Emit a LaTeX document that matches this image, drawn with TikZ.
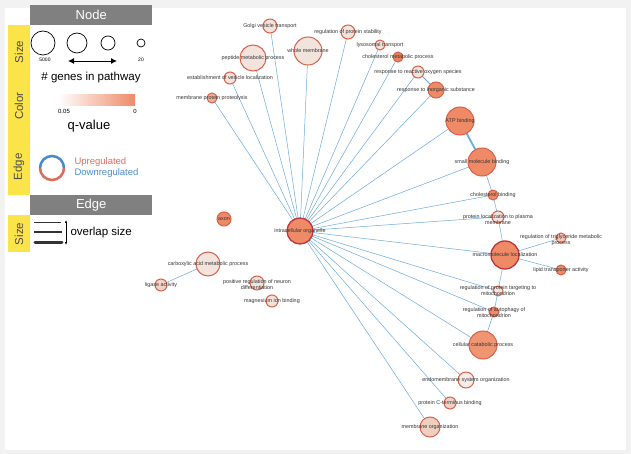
\documentclass[tikz,border=0pt]{standalone}
\usepackage{fontspec}
\setmainfont{Liberation Sans}
\usetikzlibrary{arrows.meta}
\pgfdeclarelayer{bg}
\pgfdeclarelayer{edges}
\pgfsetlayers{bg,edges,main}
\definecolor{og}{HTML}{EE8A66}
\definecolor{lt}{HTML}{F2E4DD}
\definecolor{rim}{HTML}{D9604A}
\definecolor{hub}{HTML}{C0343C}
\definecolor{eb}{HTML}{6AAAE0}
\definecolor{yel}{HTML}{FBE44A}
\definecolor{hdr}{HTML}{808080}
\definecolor{upc}{RGB}{217,112,95}
\definecolor{dnc}{RGB}{74,140,204}
\tikzset{
 gn/.style={circle,draw=rim,line width=1pt,inner sep=0pt,minimum size=#1},
 lb/.style={font=\fontsize{5.4}{5.9}\selectfont,align=center,text=black!80},
 ed/.style={draw=eb,line width=0.5pt},
 hd/.style={fill=hdr,text=white,font=\fontsize{13}{13}\selectfont,minimum width=122pt,minimum height=20pt,inner sep=0pt},
 side/.style={rotate=90,font=\fontsize{11.5}{11.5}\selectfont,text=black!70},
}
\begin{document}
\begin{tikzpicture}[x=1pt,y=-1pt]
\useasboundingbox (0,0) rectangle (631,454);
\begin{pgfonlayer}{bg}
\fill[black!5] (0,0) rectangle (631,454);
\fill[white] (5,8) rectangle (626,450);
\end{pgfonlayer}
% nodes
\node[gn=26pt,fill=og,draw=hub,line width=1.3pt] (io) at (300,231) {};
\node[gn=28pt,fill=og,draw=hub,line width=1.3pt] (ml) at (505,255) {};
\node[gn=28pt,fill=og] (atp) at (460,121) {};
\node[gn=28pt,fill=og] (smb) at (482,162) {};
\node[gn=10pt,fill=og] (chb) at (493,195) {};
\node[gn=12pt,fill=lt] (plm) at (498,217) {};
\node[gn=10pt,fill={rgb,255:red,240;green,200;blue,184}] (tri) at (561,238) {};
\node[gn=10pt,fill=og] (lip) at (561,270) {};
\node[gn=10pt,fill=lt] (rpt) at (498,291) {};
\node[gn=10pt,fill=og] (rau) at (494,312) {};
\node[gn=28pt,fill={rgb,255:red,239;green,149;blue,114}] (ccp) at (483,345) {};
\node[gn=16pt,fill={rgb,255:red,243;green,236;blue,232}] (end) at (466,380) {};
\node[gn=12pt,fill={rgb,255:red,237;green,211;blue,200}] (pct) at (450,403) {};
\node[gn=20pt,fill={rgb,255:red,237;green,208;blue,192}] (mo) at (430,427) {};
\node[gn=28pt,fill=lt] (wm) at (308,51) {};
\node[gn=26pt,fill=lt] (pmp) at (253,58) {};
\node[gn=14pt,fill=lt] (gvt) at (270,26) {};
\node[gn=14pt,fill=lt] (rps) at (348,32) {};
\node[gn=10pt,fill=lt] (lys) at (380,45) {};
\node[gn=10pt,fill={rgb,255:red,232;green,132;blue,94}] (cmp) at (398,57) {};
\node[gn=12pt,fill=lt] (ros) at (418,72) {};
\node[gn=16pt,fill=og] (ris) at (436,90) {};
\node[gn=12pt,fill=lt] (evl) at (230,78) {};
\node[gn=10pt,fill={rgb,255:red,237;green,180;blue,156}] (mpp) at (212,98) {};
\node[gn=14pt,fill=og] (axon) at (224,219) {};
\node[gn=24pt,fill=lt] (cam) at (208,264) {};
\node[gn=12pt,fill={rgb,255:red,239;green,213;blue,200}] (lig) at (161,285) {};
\node[gn=14pt,fill=lt] (prn) at (257,283) {};
\node[gn=12pt,fill=lt] (mib) at (272,301) {};
% edges
\begin{pgfonlayer}{edges}
\foreach \t in {gvt,pmp,wm,rps,lys,cmp,ros,ris,evl,mpp,atp,smb,chb,plm,ml,rpt,rau,ccp,end,pct,mo}
  \draw[ed] (io.center) -- (\t.center);
\draw[eb,line width=1.8pt] (atp.center) -- (smb.center);
\draw[ed,line width=1pt] (ros.center) -- (ris.center);
\draw[ed] (smb.center) -- (chb.center) (chb.center) -- (plm.center) (plm.center) -- (ml.center) (ml.center) -- (tri.center) (ml.center) -- (lip.center) (ml.center) -- (rpt.center) (rpt.center) -- (rau.center) (rau.center) -- (ccp.center) (cam.center) -- (lig.center);
\end{pgfonlayer}
% labels
\node[lb] at (io) {intracellular organelle};
\node[lb] at (ml) {macromolecule localization};
\node[lb] at (atp) {ATP binding};
\node[lb] at (smb) {small molecule binding};
\node[lb] at (chb) {cholesterol binding};
\node[lb] at (498,220) {protein localization to plasma\\membrane};
\node[lb] at (561,240) {regulation of triglyceride metabolic\\process};
\node[lb] at (561,270) {lipid transporter activity};
\node[lb] at (498,291) {regulation of protein targeting to\\mitochondrion};
\node[lb] at (494,313) {regulation of autophagy of\\mitochondrion};
\node[lb] at (ccp) {cellular catabolic process};
\node[lb] at (end) {endomembrane system organization};
\node[lb] at (pct) {protein C-terminus binding};
\node[lb] at (mo) {membrane organization};
\node[lb] at (wm) {whole membrane};
\node[lb] at (pmp) {peptide metabolic process};
\node[lb] at (gvt) {Golgi vesicle transport};
\node[lb] at (rps) {regulation of protein stability};
\node[lb] at (lys) {lysosomal transport};
\node[lb] at (cmp) {cholesterol metabolic process};
\node[lb] at (ros) {response to reactive oxygen species};
\node[lb] at (ris) {response to inorganic substance};
\node[lb] at (evl) {establishment of vesicle localization};
\node[lb] at (mpp) {membrane protein proteolysis};
\node[lb] at (axon) {axon};
\node[lb] at (cam) {carboxylic acid metabolic process};
\node[lb] at (lig) {ligase activity};
\node[lb] at (257,285) {positive regulation of neuron\\differentiation};
\node[lb] at (mib) {magnesium ion binding};
% legend
\fill[yel] (8,25) rectangle (30,238);
\fill[white] (8,195) rectangle (30,215);
\fill[yel] (8,216) rectangle (30,252);
\node[hd,anchor=north west] (hn) at (30,5) {Node};
\node[hd,anchor=north west] (he) at (30,195) {Edge};
\node[side] (s1) at (19,52) {Size};
\node[side] (s2) at (19,106) {Color};
\node[side] (s3) at (19,167) {Edge};
\node[side] (s4) at (19,234) {Size};
\node[circle,draw,line width=0.7pt,minimum size=24pt,inner sep=0pt] (c1) at (43,43) {};
\node[circle,draw,line width=0.7pt,minimum size=20pt,inner sep=0pt] (c2) at (77,43) {};
\node[circle,draw,line width=0.7pt,minimum size=14pt,inner sep=0pt] (c3) at (108,43) {};
\node[circle,draw,line width=0.7pt,minimum size=8pt,inner sep=0pt] (c4) at (141,43) {};
\node[font=\fontsize{5}{5}\selectfont] (n5) at (45,60) {5000};
\node[font=\fontsize{5}{5}\selectfont] (n20) at (141,60) {20};
\coordinate (a1) at (68,61); \coordinate (a2) at (117,61);
\draw[{Latex[length=6pt,width=6pt]}-{Latex[length=6pt,width=6pt]},line width=0.9pt] (a1) -- (a2);
\node[font=\fontsize{11.5}{11.5}\selectfont] (gp) at (91,78) {\# genes in pathway};
\shade[left color=white,right color=og] (58,95) rectangle (135,106);
\node[font=\fontsize{6}{6}\selectfont] (q1) at (64,111) {0.05};
\node[font=\fontsize{6}{6}\selectfont] (q0) at (135,111) {0};
\node[font=\fontsize{13}{13}\selectfont] (qv) at (89,126) {q-value};
\draw[upc,line width=2.6pt] (40,168) arc (180:0:12);
\draw[dnc,line width=2.6pt] (40,168) arc (180:360:12);
\node[font=\fontsize{9.5}{10}\selectfont,text=upc,anchor=west] (up) at (71,162) {Upregulated};
\node[font=\fontsize{9.5}{10}\selectfont,text=dnc,anchor=west] (dn) at (71,173) {Downregulated};
\draw[line width=0.9pt,black!80] (34,222) -- (61,222);
\draw[line width=1.8pt,black!80] (34,232) -- (62,232);
\draw[line width=3pt,black!80,line cap=round] (35,242) -- (62,242);
\coordinate (v1) at (66,220); \coordinate (v2) at (66,245);
\draw[{Latex[length=3pt]}-{Latex[length=3pt]},line width=0.5pt] (v1) -- (v2);
\node[font=\fontsize{11.5}{11.5}\selectfont,anchor=west] (ov) at (67,233) {overlap size};
\end{tikzpicture}
\end{document}
